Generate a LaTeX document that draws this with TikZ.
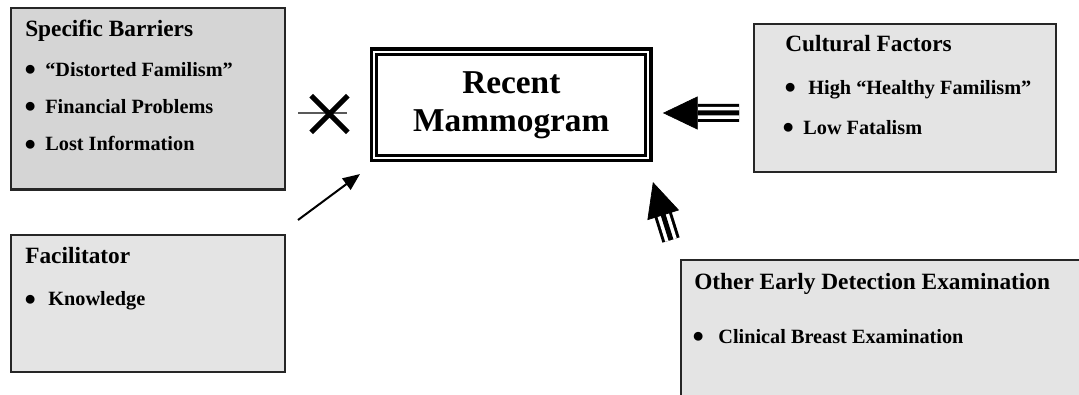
\documentclass[tikz,border=0pt]{standalone}
\usepackage{fontspec}
\setmainfont{Liberation Serif}
\usetikzlibrary{positioning,arrows.meta,calc,shapes.misc}
\definecolor{barriergray}{HTML}{D5D5D5}
\definecolor{boxgray}{HTML}{E4E4E4}
\newcommand{\itembullet}{\raisebox{-3.5pt}{\scalebox{1.6}{\textbullet}}}

\begin{document}
\begin{tikzpicture}[
  x=0.75pt, y=-0.75pt,
  factor/.style={draw=black!85, line width=1.6pt, fill=boxgray,
    outer sep=0pt, inner sep=0pt},
  heading/.style={font=\fontsize{17.5}{21}\selectfont\bfseries,
    anchor=base west, inner sep=0pt},
  item/.style={font=\fontsize{15.2}{18}\selectfont\bfseries,
    anchor=base west, inner sep=0pt},
  outcome/.style={draw, double=white, double distance=1.5pt, line width=2.4pt,
    fill=white, outer sep=0pt, align=center,
    font=\fontsize{25}{28.5}\selectfont\bfseries},
  arrow/.style={-{Triangle[length=12.75pt, width=10.5pt]}, line width=1.5pt},
  shaft/.style={line width=13.5pt, postaction={draw=white, line width=9pt},
    postaction={draw=black, line width=3.75pt}},
  bighead/.style={-{Triangle[length=26pt, width=24.75pt]}, line width=0.5pt},
  blocked/.style={line width=1.1pt},
  crossmark/.style={cross out, draw, line width=3.9pt, minimum size=23.5pt,
    inner sep=0pt}
]
\useasboundingbox (0,0) rectangle (1079,395);

% outcome in the middle
\node[outcome, minimum width=205.7pt, minimum height=79.9pt] (mammo)
  at (511.3,104.8) {Recent\\Mammogram};

% factor boxes
\node[factor, fill=barriergray, minimum width=205.5pt, minimum height=136.1pt]
  (barriers) at (148,98.75) {};
\node[factor, minimum width=205.5pt, minimum height=102.75pt]
  (facil) at (148,303.5) {};
\node[factor, minimum width=226.5pt, minimum height=111pt]
  (cult) at (905,98) {};
\node[factor, anchor=north west, minimum width=315pt, minimum height=120pt]
  (other) at (681,260) {};

% headings
\node[heading] (barrhead) at ($(barriers.north west)+(14,28)$) {Specific Barriers};
\node[heading] (facilhead) at ($(facil.north west)+(14,28.3)$) {Facilitator};
\node[heading] (culthead) at ($(cult.north west)+(31,27.7)$) {Cultural Factors};
\node[heading] (otherhead) at ($(other.north west)+(13,29.3)$)
  {Other Early Detection Examination};

% bullet items
\foreach \yy/\gap/\txt [count=\i] in {68/7pt/“Distorted Familism”,
  105.3/7pt/Financial Problems, 142.7/7pt/Lost Information}
  \node[item] (barr\i) at ($(barriers.north west)+(13.4,\yy)$)
    {\itembullet\hspace{\gap}\txt};
\node[item] (facil1) at ($(facil.north west)+(13.4,71)$)
  {\itembullet\hspace{9.3pt}Knowledge};
\node[item] (cult1) at ($(cult.north west)+(30.4,70.3)$)
  {\itembullet\hspace{9.3pt}High “Healthy Familism”};
\node[item] (cult2) at ($(cult.north west)+(28.4,110.3)$)
  {\itembullet\hspace{7pt}Low Fatalism};
\node[item] (other1) at ($(other.north west)+(11.4,83.3)$)
  {\itembullet\hspace{10.8pt}Clinical Breast Examination};

% blocked link from the barriers
\coordinate (blockstart) at ($(barriers.east)+(13,14.25)$);
\coordinate (blockend) at ($(mammo.west)+(-27.2,8.2)$);
\draw[blocked] (blockstart) -- (blockend);
\node[crossmark] (block) at ($(mammo.west)+(-44.7,9.2)$) {};

% facilitator
\coordinate (faciltail) at ($(facil.north east)+(13,-15)$);
\coordinate (faciltip) at ($(mammo.south west)+(-14.2,16)$);
\draw[arrow] (faciltail) -- (faciltip);

% cultural factors
\coordinate (culttip) at ($(mammo.east)+(14.5,8.2)$);
\coordinate (culttail) at ($(cult.west)+(-15,15)$);
\coordinate (cultbase) at ($(culttip)!26.25pt!(culttail)$);
\draw[shaft] (culttail) -- (cultbase);
\draw[bighead] (culttail) -- (culttip);

% other examination
\coordinate (othertip) at ($(mammo.south east)+(4.5,24)$);
\coordinate (othertail) at ($(other.north west)+(-10,-20)$);
\coordinate (otherbase) at ($(othertip)!24pt!(othertail)$);
\draw[shaft] (othertail) -- (otherbase);
\draw[bighead] (othertail) -- (othertip);
\end{tikzpicture}
\end{document}
